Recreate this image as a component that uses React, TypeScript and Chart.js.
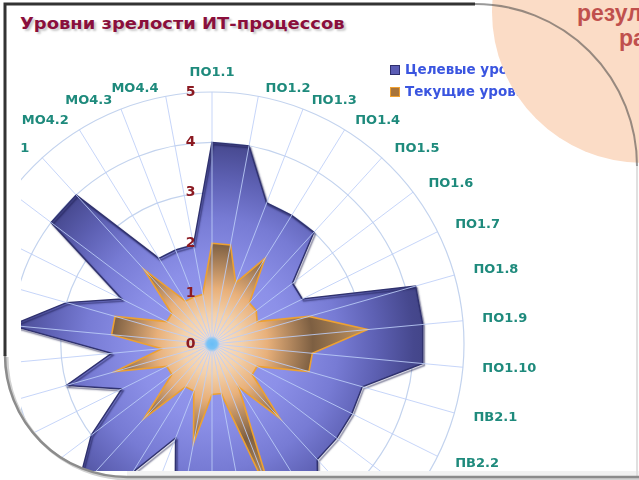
import React, { useEffect, useRef } from "react";
import { Chart, registerables } from "chart.js";

Chart.register(...registerables);

const categories = [
  "ПО1.1", "ПО1.2", "ПО1.3", "ПО1.4", "ПО1.5", "ПО1.6", "ПО1.7", "ПО1.8", "ПО1.9", "ПО1.10",
  "ПВ2.1", "ПВ2.2", "ПВ2.3", "ПВ2.4", "ПВ2.5", "ПВ2.6", "ПВ2.7",
  "ЭС3.1", "ЭС3.2", "ЭС3.3", "ЭС3.4", "ЭС3.5", "ЭС3.6", "ЭС3.7", "ЭС3.8", "ЭС3.9", "ЭС3.10", "ЭС3.11", "ЭС3.12", "ЭС3.13",
  "МО4.1", "МО4.2", "МО4.3", "МО4.4",
];

const targetLevels = [
  4, 4, 3, 3, 3, 2, 2, 4.2, 4.2, 4.2,
  3.1, 3.1, 3.1, 3.1, 4, 3, 3,
  3, 4, 2, 3, 4, 3, 2, 3, 2, 4, 3, 2, 4,
  4, 2, 2, 2,
];

const currentLevels = [
  2, 2, 1.3, 2, 1.1, 1.1, 1, 2, 3.1, 2,
  2, 1, 1, 2, 1, 3.5, 1,
  1, 2, 1, 1, 2, 1, 1, 2, 1, 2, 2, 1, 1,
  2, 1, 1, 1,
];

const tickValues = [0, 1, 2, 3, 4, 5];
const seriesNames = ["Целевые уровни", "Текущие уровни"];

const targetStops: [number, string][] = [
  [0, "#9a9ef0"],
  [0.3, "#8c90e8"],
  [0.5, "#777bd4"],
  [0.65, "#5e61b4"],
  [0.8, "#46488e"],
  [1, "#383a74"],
];

const currentStops: [number, string][] = [
  [0, "#f8e4d2"],
  [0.12, "#f3d0aa"],
  [0.22, "#e8b07a"],
  [0.4, "#7d5f42"],
  [0.62, "#c69760"],
  [1, "#d9a56a"],
];

function radialFill(ctx: any, stops: [number, string][]) {
  const chart = ctx.chart;
  const s = chart.scales && chart.scales.r;
  if (!s || !s.drawingArea) return stops[2][1];
  const g = chart.ctx.createRadialGradient(s.xCenter, s.yCenter, 0, s.xCenter, s.yCenter, s.drawingArea);
  stops.forEach(([o, c]) => g.addColorStop(o, c));
  return g;
}

const overlayPlugin = {
  id: "overlay",
  beforeDatasetDraw(chart: any, args: any) {
    if (args.index === 0) {
      const ctx = chart.ctx;
      ctx.save();
      ctx.shadowColor = "rgba(20,20,70,0.6)";
      ctx.shadowOffsetX = 1.5;
      ctx.shadowOffsetY = 2;
      ctx.shadowBlur = 1.5;
    }
  },
  afterDatasetDraw(chart: any, args: any) {
    if (args.index === 0) chart.ctx.restore();
  },
  afterDatasetsDraw(chart: any) {
    const s = chart.scales.r;
    const ctx = chart.ctx;
    const labels: string[] = chart.data.labels;
    const n = labels.length;
    const R = s.drawingArea;
    const xC = s.xCenter;
    const yC = s.yCenter;
    ctx.save();
    // spokes over the fills
    ctx.strokeStyle = "rgba(188,206,248,0.85)";
    ctx.lineWidth = 1;
    for (let i = 0; i < n; i++) {
      const p = s.getPointPosition(i, R);
      ctx.beginPath();
      ctx.moveTo(xC, yC);
      ctx.lineTo(p.x, p.y);
      ctx.stroke();
    }
    // centre dot
    const g = ctx.createRadialGradient(xC, yC, 0, xC, yC, 8);
    g.addColorStop(0, "#68bdf6");
    g.addColorStop(0.6, "#78c3f6");
    g.addColorStop(1, "rgba(120,195,246,0)");
    ctx.fillStyle = g;
    ctx.beginPath();
    ctx.arc(xC, yC, 8, 0, Math.PI * 2);
    ctx.fill();
    // tick labels
    ctx.font = 'bold 14px "DejaVu Sans"';
    ctx.fillStyle = "#8b1a22";
    ctx.textAlign = "center";
    ctx.textBaseline = "middle";
    tickValues.forEach((v) => {
      ctx.fillText(String(v), xC - 21.5, yC - s.getDistanceFromCenterForValue(v));
    });
    // point labels
    ctx.font = 'bold 13px "DejaVu Sans"';
    ctx.fillStyle = "#1e8a7c";
    for (let i = 0; i < n; i++) {
      const th = (Math.PI * 2 * i) / n;
      const sn = Math.sin(th);
      const cs = Math.cos(th);
      if (Math.abs(sn) < 0.05) {
        const p = s.getPointPosition(i, R + 16);
        ctx.textAlign = "center";
        ctx.textBaseline = cs > 0 ? "alphabetic" : "top";
        ctx.fillText(labels[i], p.x, p.y);
      } else {
        const p = s.getPointPosition(i, R + 7 + 12 * sn * sn);
        const dx = Math.sign(sn) * 6 * Math.abs(cs);
        ctx.textAlign = sn > 0 ? "left" : "right";
        ctx.textBaseline = "middle";
        ctx.fillText(labels[i], p.x + dx, p.y);
      }
    }
    ctx.restore();
  },
};

export default function App() {
  const ref = useRef<HTMLCanvasElement | null>(null);

  useEffect(() => {
    if (!ref.current) return;
    const chart = new Chart(ref.current, {
      type: "radar",
      data: {
        labels: categories,
        datasets: [
          {
            label: seriesNames[0],
            data: targetLevels,
            order: 2,
            fill: "origin",
            backgroundColor: (c: any) => radialFill(c, targetStops),
            borderColor: "#30326f",
            borderWidth: 1.5,
            pointRadius: 0,
            pointHoverRadius: 0,
          },
          {
            label: seriesNames[1],
            data: currentLevels,
            order: 1,
            fill: "origin",
            backgroundColor: (c: any) => radialFill(c, currentStops),
            borderColor: "#eda132",
            borderWidth: 1.6,
            pointRadius: 0,
            pointHoverRadius: 0,
          },
        ],
      },
      options: {
        responsive: false,
        animation: false,
        devicePixelRatio: 1,
        layout: { padding: { left: 60, top: 92, right: 136, bottom: 104 } },
        elements: { line: { tension: 0 } },
        plugins: { legend: { display: false }, tooltip: { enabled: false }, title: { display: false } },
        scales: {
          r: {
            min: 0,
            max: 5,
            ticks: { stepSize: 1, display: false },
            grid: { circular: true, color: "#c3d3ee", lineWidth: 1.2 },
            angleLines: { display: false },
            pointLabels: { display: false },
          },
        },
      },
      plugins: [overlayPlugin],
    } as any);
    return () => chart.destroy();
  }, []);

  return (
    <div
      style={{
        position: "fixed",
        left: 0,
        top: 0,
        width: 639,
        height: 480,
        overflow: "hidden",
        background: "#ffffff",
        fontFamily: '"DejaVu Sans", sans-serif',
      }}
    >
      <div
        style={{
          position: "absolute",
          left: 20,
          top: 16,
          fontSize: 16,
          lineHeight: "16px",
          fontWeight: "bold",
          color: "#8a0f3c",
          whiteSpace: "nowrap",
          textShadow: "2px 2px 2px rgba(0,0,0,0.22)",
          transformOrigin: "0 0",
          transform: "scaleX(1.12)",
        }}
      >
        Уровни зрелости ИТ-процессов
      </div>

      <div style={{ position: "absolute", left: 21, top: 40, width: 580, height: 431, overflow: "hidden" }}>
        <canvas
          ref={ref}
          width={700}
          height={700}
          style={{ position: "absolute", left: -121, top: -40, width: 700, height: 700 }}
        />
      </div>

      {[0, 1].map((k) => (
        <div key={k}>
          <div
            style={{
              position: "absolute",
              left: 390,
              top: k === 0 ? 65 : 87,
              width: 8,
              height: 8,
              background: k === 0 ? "#5b5db5" : "#a8743a",
              border: k === 0 ? "1px solid #2e2f6e" : "1.5px solid #f0a030",
            }}
          />
          <div
            style={{
              position: "absolute",
              left: 405,
              top: k === 0 ? 63.2 : 85.4,
              fontSize: 13.5,
              lineHeight: "13.5px",
              fontWeight: "bold",
              color: "#3a55e0",
              whiteSpace: "nowrap",
            }}
          >
            {seriesNames[k]}
          </div>
        </div>
      ))}

      <div
        style={{
          position: "absolute",
          left: 643 - 151,
          top: 12 - 151,
          width: 302,
          height: 302,
          borderRadius: "50%",
          background: "#fbdcc6",
        }}
      />
      <div
        style={{
          position: "absolute",
          left: 577,
          top: 2.3,
          fontFamily: '"Liberation Sans", Arial, sans-serif',
          fontSize: 23,
          lineHeight: "23px",
          fontWeight: "bold",
          color: "#c0504d",
          whiteSpace: "nowrap",
        }}
      >
        результаты
      </div>
      <div
        style={{
          position: "absolute",
          left: 619,
          top: 26.5,
          fontFamily: '"Liberation Sans", Arial, sans-serif',
          fontSize: 23,
          lineHeight: "23px",
          fontWeight: "bold",
          color: "#c0504d",
          whiteSpace: "nowrap",
        }}
      >
        работы
      </div>

      <svg
        width={639}
        height={480}
        style={{ position: "absolute", left: 0, top: 0, pointerEvents: "none" }}
      >
        <path d="M0,355 L5,355 A122,122 0 0 0 127,477 L127,480 L0,480 Z" fill="#ffffff" />
        <rect x={0} y={0} width={5} height={480} fill="#ffffff" />
        <rect x={127} y={471} width={512} height={9} fill="#f2f2f2" />
        <path d="M637,166 L637,480" stroke="#e0e0e0" strokeWidth={2} fill="none" />
        <path d="M7,357 A122,122 0 0 0 129,479 L639,479" stroke="#d2d2d2" strokeWidth={3} fill="none" />
        <path d="M5,355 A122,122 0 0 0 127,477 L639,477" stroke="#8c8c8c" strokeWidth={2.5} fill="none" />
        <path d="M5,356 L5,4 L475,4" stroke="#333333" strokeWidth={3} fill="none" />
        <path d="M475,4 A162,162 0 0 1 637,166" stroke="rgba(70,70,70,0.55)" strokeWidth={2} fill="none" />
      </svg>
    </div>
  );
}
